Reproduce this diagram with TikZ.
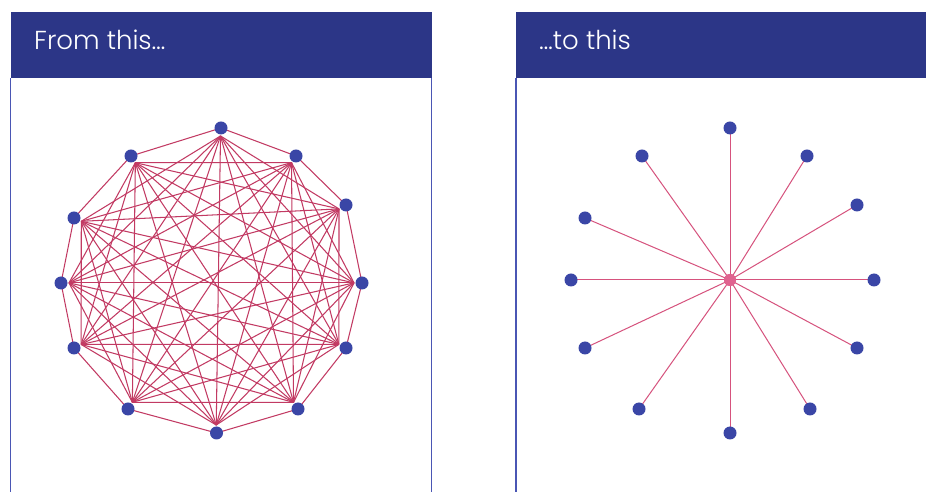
\documentclass[tikz,border=0pt]{standalone}
\usepackage{fontspec}
\newfontfamily\headfont{Poppins Light}
\usetikzlibrary{calc}
\definecolor{headblue}{HTML}{2C3687}
\definecolor{frameblue}{HTML}{4A56B4}
\definecolor{dotblue}{HTML}{3A46A6}
\definecolor{chordred}{HTML}{C23A63}
\definecolor{spokepink}{HTML}{D6527D}
\definecolor{hubpink}{HTML}{E0628F}
\tikzset{
  frame/.style={draw=frameblue, line width=1.3pt},
  header/.style={fill=headblue},
  title/.style={anchor=base west, text=white, inner sep=0pt, font=\headfont\fontsize{26}{31}\selectfont},
  dot/.style={circle, fill=dotblue, inner sep=0pt, minimum size=13pt},
  hub/.style={circle, fill=hubpink, inner sep=0pt, minimum size=12pt},
  chord/.style={draw=chordred, line width=1.05pt},
  spoke/.style={draw=spokepink, line width=1pt},
}
\begin{document}
\begin{tikzpicture}[x=1pt,y=1pt]
\useasboundingbox (0,0) rectangle (926,492);
\fill[white] (0,0) rectangle (926,492);

% panels
\fill[header] (10.5,414) rectangle (431.5,480);
\draw[frame] (10.5,-5) -- (10.5,414) (431.5,414) -- (431.5,-5);
\node[title] (t1) at (34,442) {From this\ldots};

\fill[header] (516,414) rectangle (935,480);
\draw[frame] (516,-5) -- (516,414);
\node[title] (t2) at (539,442) {\ldots to this};

% fully connected network
\coordinate (C) at (211.5,211.5);
\foreach \n/\p in {1/{221,364},2/{296,336},3/{346,287},4/{362,209},5/{346,144},6/{298,83},
                  7/{216.5,59},8/{128,83},9/{74,144},10/{61,209},11/{74,274},12/{131,336}}{
  \coordinate (L\n) at (\p);
  \coordinate (L\n i) at ($(L\n)!8pt!(C)$);
}
% outer ring
\foreach \a/\b in {1/2,2/3,3/4,4/5,5/6,6/7,7/8,8/9,9/10,10/11,11/12,12/1}
  \draw[chord] (L\a) -- (L\b);
% inner chords
\foreach \a in {1,...,12}{
  \foreach \b in {1,...,12}{
    \pgfmathtruncatemacro{\d}{\b-\a}
    \ifnum\d>1 \ifnum\d<11
      \draw[chord] (L\a i) -- (L\b i);
    \fi\fi
  }
}
\foreach \n in {1,...,12}
  \node[dot] (LN\n) at (L\n) {};

% star network
\node[hub] (H) at (730,212) {};
\foreach \n/\p in {1/{730,364},2/{807,336},3/{857,287},4/{874,212},5/{857,144},6/{810,83},
                  7/{730,59},8/{639,83},9/{585,144},10/{571,212},11/{585,274},12/{642,336}}{
  \coordinate (R\n) at (\p);
  \draw[spoke] (H.center) -- (R\n);
}
\node[hub] at (H) {};
\foreach \n in {1,...,12}
  \node[dot] (RN\n) at (R\n) {};
\end{tikzpicture}
\end{document}
